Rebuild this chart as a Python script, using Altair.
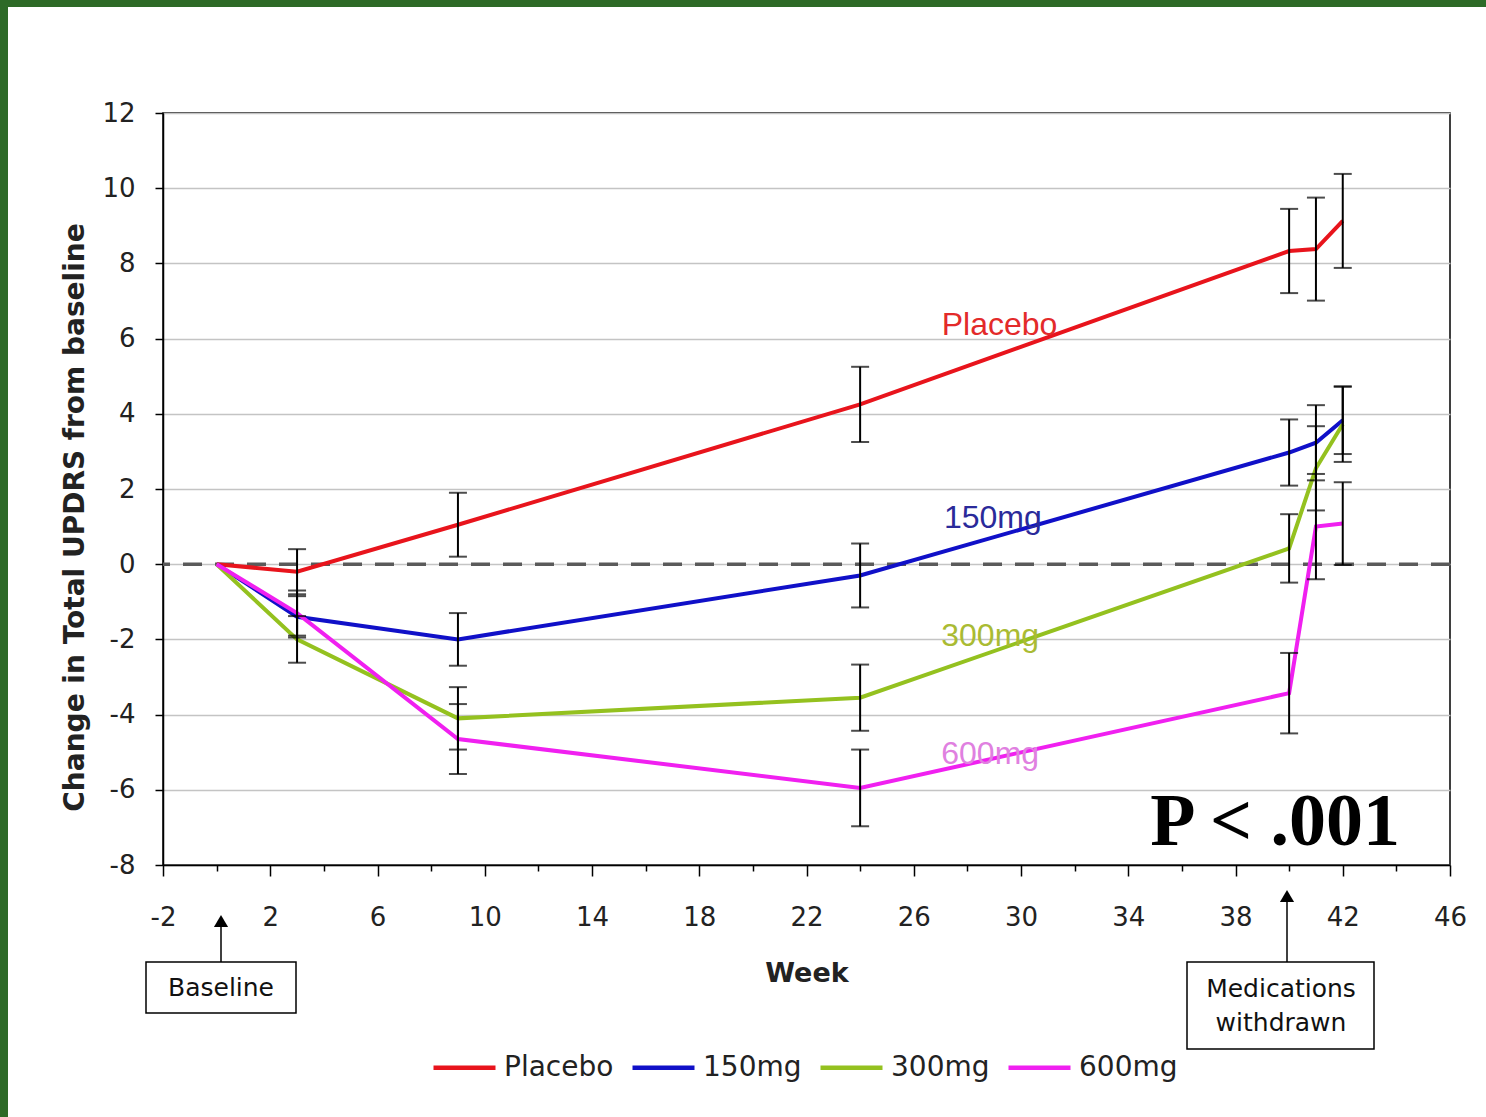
import altair as alt
import pandas as pd

weeks = [0, 3, 9, 24, 40, 41, 42]
groups = ["Placebo", "150mg", "300mg", "600mg"]
colors = ["#e8141c", "#1010c8", "#94c11f", "#f020f0"]
label_colors = ["#e32a2a", "#2a2a9a", "#aabb33", "#e080e0"]

placebo = [0, -0.2, 1.05, 4.25, 8.33, 8.38, 9.13]
mg150 = [0, -1.4, -2.0, -0.3, 2.97, 3.23, 3.83]
mg300 = [0, -2.0, -4.1, -3.55, 0.42, 2.55, 3.72]
mg600 = [0, -1.3, -4.65, -5.95, -3.43, 1.0, 1.08]

placebo_err = [0, 0.6, 0.85, 1.0, 1.12, 1.37, 1.25]
mg150_err = [0, 0.55, 0.7, 0.85, 0.88, 1.0, 0.9]
mg300_err = [0, 0.62, 0.83, 0.88, 0.91, 1.12, 1.0]
mg600_err = [0, 0.6, 0.93, 1.02, 1.07, 1.4, 1.1]

label_x = [29.2, 28.95, 28.85, 28.85]
label_y = [6.36, 1.23, -1.91, -5.05]

series = [placebo, mg150, mg300, mg600]
errs = [placebo_err, mg150_err, mg300_err, mg600_err]

rows = []
for g, vals, es in zip(groups, series, errs):
    for i, (w, v, e) in enumerate(zip(weeks, vals, es)):
        rows.append({"group": g, "week": w, "value": v, "lo": v - e, "hi": v + e, "err": e, "order": i})
df = pd.DataFrame(rows)
err_df = df[df["err"] > 0]

lab_df = pd.DataFrame({"group": groups, "x": label_x, "y": label_y, "c": label_colors})

W, H = 1287, 752
FONT = "DejaVu Sans"
GREEN = "#2d6a27"

xscale = alt.Scale(domain=[-2, 46], nice=False, zero=False)
yscale = alt.Scale(domain=[-8, 12], nice=False, zero=False)

x_axis = alt.Axis(
    values=list(range(-2, 47)),
    labelExpr="(datum.value + 2) % 4 === 0 ? replace(datum.label, '\u2212', '-') : ''",
    labelFlush=False,
    grid=False,
    tickSize={"condition": {"test": "(datum.value + 2) % 4 === 0", "value": 11}, "value": 6},
    tickColor="black", tickWidth=1.5,
    domainColor="black", domainWidth=1.5,
    labelFont=FONT, labelFontSize=26, labelColor="#222", labelPadding=28,
    title="Week", titleFont=FONT, titleFontSize=27, titleFontWeight="bold",
    titleColor="#222", titlePadding=30,
)
y_axis = alt.Axis(
    values=list(range(-8, 13, 2)),
    labelExpr="replace(datum.label, '\u2212', '-')",
    labelFlush=False,
    grid=True, gridColor="#c4c4c4", gridWidth=1.5,
    tickSize=8, tickColor="black", tickWidth=1.5,
    domainColor="black", domainWidth=1.5,
    labelFont=FONT, labelFontSize=26, labelColor="#222", labelPadding=20,
    title="Change in Total UPDRS from baseline", titleFont=FONT, titleFontSize=28,
    titleFontWeight="bold", titleColor="#222", titlePadding=12, titleY=404,
)

base = alt.Chart(df)

strip_df = pd.DataFrame({"a": [0]})
top_strip = alt.Chart(strip_df).mark_rect(color=GREEN).encode(
    x=alt.value(-163), x2=alt.value(1323), y=alt.value(-113), y2=alt.value(-106)
)
left_strip = alt.Chart(strip_df).mark_rect(color=GREEN).encode(
    x=alt.value(-163), x2=alt.value(-155), y=alt.value(-113), y2=alt.value(1004)
)

zero = alt.Chart(pd.DataFrame({"y": [0]})).mark_rule(
    color="#5a5a5a", strokeWidth=3.5, strokeDash=[19, 13]
).encode(y=alt.Y("y:Q", scale=yscale, axis=y_axis))

lines = base.mark_line(strokeWidth=4).encode(
    x=alt.X("week:Q", scale=xscale, axis=x_axis),
    y=alt.Y("value:Q", scale=yscale, axis=y_axis),
    color=alt.Color(
        "group:N",
        scale=alt.Scale(domain=groups, range=colors),
        sort=groups,
        legend=alt.Legend(
            orient="none", legendX=268, legendY=921, direction="horizontal",
            title=None, symbolType="stroke", symbolSize=3844, symbolStrokeWidth=4.5,
            labelFont=FONT, labelFontSize=28, labelColor="#222",
            labelOffset=6, columnPadding=9, padding=0,
        ),
    ),
    order="order:Q",
)

stems = alt.Chart(err_df).mark_rule(color="black", strokeWidth=2).encode(
    x=alt.X("week:Q", scale=xscale), y=alt.Y("lo:Q", scale=yscale), y2="hi:Q"
)
cap_lo = alt.Chart(err_df).mark_tick(color="black", thickness=2, size=18, orient="horizontal").encode(
    x=alt.X("week:Q", scale=xscale), y=alt.Y("lo:Q", scale=yscale)
)
cap_hi = alt.Chart(err_df).mark_tick(color="black", thickness=2, size=18, orient="horizontal").encode(
    x=alt.X("week:Q", scale=xscale), y=alt.Y("hi:Q", scale=yscale)
)

labels = alt.Chart(lab_df).mark_text(font="Liberation Sans", fontSize=32).encode(
    x=alt.X("x:Q", scale=xscale), y=alt.Y("y:Q", scale=yscale),
    text="group:N", color=alt.Color("c:N", scale=None),
)

ptext = alt.Chart(pd.DataFrame({"x": [39.48], "y": [-7.47], "t": ["P < .001"]})).mark_text(
    font="Liberation Serif", fontSize=74, fontWeight="bold", baseline="alphabetic", color="black"
).encode(x=alt.X("x:Q", scale=xscale), y=alt.Y("y:Q", scale=yscale), text="t:N")

one = pd.DataFrame({"a": [0]})
box1 = alt.Chart(one).mark_rect(fill="white", stroke="black", strokeWidth=1.5).encode(
    x=alt.value(-17), x2=alt.value(133), y=alt.value(849), y2=alt.value(900)
)
box1_t = alt.Chart(one).mark_text(font=FONT, fontSize=25, color="#111").encode(
    x=alt.value(58), y=alt.value(875), text=alt.value("Baseline")
)
arr1 = alt.Chart(one).mark_rule(color="black", strokeWidth=1.5).encode(
    x=alt.value(58), y=alt.value(810), y2=alt.value(849)
)
head1 = alt.Chart(one).mark_point(shape="triangle-up", filled=True, color="black", size=200, opacity=1).encode(
    x=alt.value(58), y=alt.value(808)
)
box2 = alt.Chart(one).mark_rect(fill="white", stroke="black", strokeWidth=1.5).encode(
    x=alt.value(1024), x2=alt.value(1211), y=alt.value(849), y2=alt.value(936)
)
box2_t1 = alt.Chart(one).mark_text(font=FONT, fontSize=25, color="#111").encode(
    x=alt.value(1118), y=alt.value(876), text=alt.value("Medications")
)
box2_t2 = alt.Chart(one).mark_text(font=FONT, fontSize=25, color="#111").encode(
    x=alt.value(1118), y=alt.value(910), text=alt.value("withdrawn")
)
arr2 = alt.Chart(one).mark_rule(color="black", strokeWidth=1.5).encode(
    x=alt.value(1124), y=alt.value(786), y2=alt.value(849)
)
head2 = alt.Chart(one).mark_point(shape="triangle-up", filled=True, color="black", size=200, opacity=1).encode(
    x=alt.value(1124), y=alt.value(783)
)

chart = alt.layer(
    top_strip, left_strip, zero, lines, stems, cap_lo, cap_hi, labels, ptext,
    box1, box1_t, arr1, head1, box2, box2_t1, box2_t2, arr2, head2,
).properties(
    width=W, height=H,
    autosize=alt.AutoSizeParams(type="none"),
    padding={"left": 163, "top": 113, "right": 36, "bottom": 252},
    background="white",
).configure_view(stroke="black", strokeWidth=1.5)

chart.save("out.html", embed_options={"renderer": "svg", "actions": False})
